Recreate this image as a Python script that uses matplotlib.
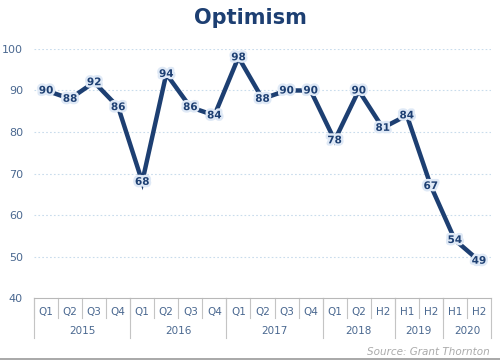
import matplotlib
matplotlib.use("Agg")
import matplotlib.pyplot as plt
import matplotlib.patheffects as pe
from matplotlib.transforms import blended_transform_factory
import numpy as np

periods = ["Q1", "Q2", "Q3", "Q4", "Q1", "Q2", "Q3", "Q4", "Q1", "Q2", "Q3", "Q4",
           "Q1", "Q2", "H2", "H1", "H2", "H1", "H2"]
years = ["2015", "2016", "2017", "2018", "2019", "2020"]
year_counts = [4, 4, 4, 3, 2, 2]
optimism = [90, 88, 92, 86, 68, 94, 86, 84, 98, 88, 90, 90, 78, 90, 81, 84, 67, 54, 49]

NAVY = "#1d3f72"
TICK = "#4a6890"

fig = plt.figure(figsize=(5, 3.6), dpi=100)
ax = fig.add_axes([0.068, 0.172, 0.914, 0.692])

x = np.arange(len(optimism))
ax.plot(x, optimism, color=NAVY, lw=3.2, solid_joinstyle="miter", zorder=2)

for xi, v in zip(x, optimism):
    ax.text(xi, v, str(v), ha="center", va="center", fontsize=7.5, fontweight="bold",
            color=NAVY, zorder=3,
            path_effects=[pe.withStroke(linewidth=3.5, foreground="#dfe9f6")])

ax.set_xlim(-0.5, len(optimism) - 0.5)
ax.set_ylim(40, 100)
ax.set_yticks(range(40, 101, 10))
ax.tick_params(axis="y", length=0, labelsize=8, labelcolor=TICK, pad=8)
ax.set_xticks([])
for yv in range(50, 101, 10):
    ax.axhline(yv, color="#c9dcec", lw=0.8, ls=(0, (1.5, 2)), zorder=0)

for s in ["top", "right", "left"]:
    ax.spines[s].set_visible(False)
ax.spines["bottom"].set_color("#b8b8b8")
ax.spines["bottom"].set_linewidth(0.8)

trans = blended_transform_factory(ax.transData, ax.transAxes)
for i, p in enumerate(periods):
    ax.text(i, -0.056, p, transform=trans, ha="center", va="center",
            fontsize=7.5, color=TICK)
    ax.plot([i - 0.5, i - 0.5], [0, -0.08], transform=trans, color="#c4c4c4",
            lw=0.8, clip_on=False)

start = -0.5
for yr, n in zip(years, year_counts):
    ax.plot([start, start], [0, -0.16], transform=trans, color="#c4c4c4",
            lw=0.8, clip_on=False)
    ax.text(start + n / 2, -0.133, yr, transform=trans, ha="center", va="center",
            fontsize=7.5, color=TICK)
    start += n
ax.plot([start, start], [0, -0.16], transform=trans, color="#c4c4c4",
        lw=0.8, clip_on=False)

fig.text(0.5, 0.95, "Optimism", ha="center", va="center", fontsize=15,
         fontweight="bold", color=NAVY)
fig.text(0.98, 0.022, "Source: Grant Thornton", ha="right", va="center",
         fontsize=7.5, style="italic", color="#aaaaaa")
fig.add_artist(plt.Line2D([0, 1], [0.003, 0.003], color="#999999", lw=1.2))

fig.savefig("out.png", dpi=100)
